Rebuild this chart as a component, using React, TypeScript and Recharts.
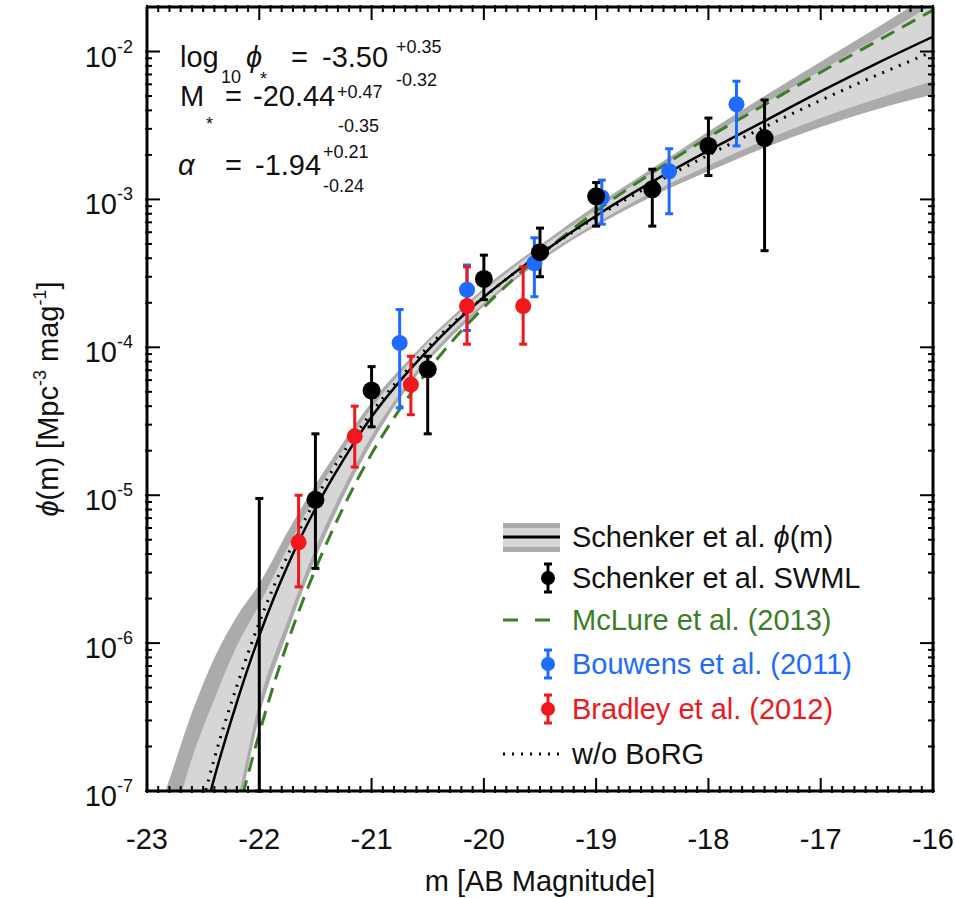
import React from 'react'
import {
  ComposedChart,
  XAxis,
  YAxis,
  Area,
  Line,
  Scatter,
  ErrorBar,
  Legend,
  Label,
} from 'recharts'

const FONT = "'Liberation Sans', Arial, Helvetica, sans-serif"
const INK = '#111'
const BLUE = '#1f6bff'
const RED = '#f0181c'
const GREEN = '#3d7d27'
const BAND_OUTER = '#ababab'
const BAND_INNER = '#d6d6d6'

const magGrid = [-23, -22.8, -22.6, -22.4, -22.2, -22, -21.75, -21.5, -21.25, -21, -20.75, -20.5, -20.25, -20, -19.5, -19, -18.5, -18, -17.5, -17, -16.5, -16]
// log10 phi for each curve
const fitLog = [-9.09, -8.24, -7.52, -6.91, -6.4, -5.95, -5.48, -5.09, -4.76, -4.47, -4.23, -4.02, -3.83, -3.66, -3.37, -3.11, -2.88, -2.67, -2.47, -2.27, -2.08, -1.9]
const noBorgLog = [-8.9, -8.08, -7.38, -6.78, -6.29, -5.86, -5.41, -5.03, -4.71, -4.44, -4.21, -4.0, -3.82, -3.66, -3.37, -3.12, -2.9, -2.7, -2.51, -2.33, -2.16, -2.0]
const mclureLog = [-10.7, -9.6, -8.66, -7.86, -7.19, -6.61, -6.0, -5.5, -5.08, -4.72, -4.42, -4.16, -3.93, -3.73, -3.38, -3.08, -2.82, -2.58, -2.36, -2.14, -1.93, -1.72]
const bandOuterHiLog = [-7.35, -6.92, -6.47, -6.1, -5.82, -5.6, -5.25, -4.93, -4.64, -4.37, -4.15, -3.95, -3.77, -3.6, -3.31, -3.04, -2.79, -2.54, -2.3, -2.07, -1.84, -1.6]
const bandInnerHiLog = [-7.8, -7.3, -6.78, -6.38, -6.02, -5.74, -5.36, -5.0, -4.69, -4.41, -4.18, -3.97, -3.79, -3.62, -3.33, -3.07, -2.82, -2.58, -2.35, -2.13, -1.91, -1.68]
const bandInnerLoLog = [-9.5, -9.0, -8.3, -7.65, -7.08, -6.4, -5.85, -5.36, -4.95, -4.6, -4.31, -4.07, -3.87, -3.7, -3.4, -3.16, -2.95, -2.77, -2.6, -2.45, -2.32, -2.2]
const bandOuterLoLog = [-9.8, -9.2, -8.5, -7.8, -7.2, -6.5, -5.93, -5.43, -5.01, -4.65, -4.35, -4.1, -3.9, -3.72, -3.42, -3.18, -2.98, -2.81, -2.65, -2.51, -2.39, -2.29]

// Schenker et al. SWML points (the faintest one sits below the frame)
const swmlMag = [-22.0, -21.5, -21.0, -20.5, -20.0, -19.5, -19.0, -18.5, -18.0, -17.5]
const swmlPhi = [6e-8, 9.3e-6, 5.1e-5, 7.1e-5, 2.9e-4, 4.4e-4, 1.05e-3, 1.17e-3, 2.3e-3, 2.6e-3]
const swmlLo = [1e-7, 3.2e-6, 2.9e-5, 2.6e-5, 2.1e-4, 3.0e-4, 6.6e-4, 6.6e-4, 1.45e-3, 4.5e-4]
const swmlHi = [9.5e-6, 2.6e-5, 7.4e-5, 8.7e-5, 4.2e-4, 6.4e-4, 1.3e-3, 1.6e-3, 3.55e-3, 4.7e-3]

// Bouwens et al. (2011)
const bouwensMag = [-20.75, -20.15, -19.55, -18.95, -18.35, -17.75]
const bouwensPhi = [1.07e-4, 2.45e-4, 3.7e-4, 1.03e-3, 1.55e-3, 4.4e-3]
const bouwensLo = [3.9e-5, 1.3e-4, 2.2e-4, 6.8e-4, 8.0e-4, 2.3e-3]
const bouwensHi = [1.8e-4, 3.6e-4, 5.5e-4, 1.35e-3, 2.2e-3, 6.3e-3]

// Bradley et al. (2012)
const bradleyMag = [-21.65, -21.15, -20.65, -20.15, -19.65]
const bradleyPhi = [4.8e-6, 2.5e-5, 5.6e-5, 1.9e-4, 1.9e-4]
const bradleyLo = [2.4e-6, 1.55e-5, 3.5e-5, 1.05e-4, 1.05e-4]
const bradleyHi = [1.0e-5, 4.0e-5, 8.7e-5, 3.5e-4, 3.5e-4]

const xMajor = [-23, -22, -21, -20, -19, -18, -17, -16]
const yDecades = [-7, -6, -5, -4, -3, -2]

const legendLabels = [
  'Schenker et al. ϕ(m)',
  'Schenker et al. SWML',
  'McLure et al. (2013)',
  'Bouwens et al. (2011)',
  'Bradley et al. (2012)',
  'w/o BoRG',
]

const pow10 = (v: number) => Math.pow(10, v)

const curveData = magGrid.map((m, i) => ({
  m,
  fit: pow10(fitLog[i]),
  noBorg: pow10(noBorgLog[i]),
  mclure: pow10(mclureLog[i]),
  outer: [pow10(bandOuterLoLog[i]), pow10(bandOuterHiLog[i])],
  inner: [pow10(bandInnerLoLog[i]), pow10(bandInnerHiLog[i])],
}))

const toPoints = (mags: number[], phi: number[], lo: number[], hi: number[]) =>
  mags.map((m, i) => ({ m, phi: phi[i], err: [phi[i] - lo[i], hi[i] - phi[i]] }))

const swmlPts = toPoints(swmlMag, swmlPhi, swmlLo, swmlHi)
const bouwensPts = toPoints(bouwensMag, bouwensPhi, bouwensLo, bouwensHi)
const bradleyPts = toPoints(bradleyMag, bradleyPhi, bradleyLo, bradleyHi)

// minor ticks every 0.1 mag, log minors 2..9 per decade
const xTicks: number[] = []
for (let i = xMajor[0] * 10; i <= xMajor[xMajor.length - 1] * 10; i++) xTicks.push(i / 10)
const yTicks: number[] = []
yDecades.forEach((e) => {
  if (e === -2) {
    yTicks.push(pow10(e))
    return
  }
  for (let j = 1; j <= 9; j++) yTicks.push(j * pow10(e))
})

const MAJOR = 15
const MINOR = 7
const isWhole = (v: number) => Math.abs(v - Math.round(v)) < 1e-6

function BottomTick({ x, y, payload }: any) {
  const major = isWhole(payload.value)
  return (
    <g>
      <line x1={x} x2={x} y1={y} y2={y - (major ? MAJOR : MINOR)} stroke="#000" strokeWidth={2} />
      {major && (
        <text x={x} y={y + 56} textAnchor="middle" fontFamily={FONT} fontSize={29} fill={INK}>
          {Math.round(payload.value)}
        </text>
      )}
    </g>
  )
}

function TopTick({ x, y, payload }: any) {
  const major = isWhole(payload.value)
  return <line x1={x} x2={x} y1={y} y2={y + (major ? MAJOR : MINOR)} stroke="#000" strokeWidth={2} />
}

function LeftTick({ x, y, payload }: any) {
  const e = Math.log10(payload.value)
  const major = isWhole(e)
  return (
    <g>
      <line x1={x} x2={x + (major ? MAJOR : MINOR)} y1={y} y2={y} stroke="#000" strokeWidth={2} />
      {major && (
        <text x={x - 12} y={y + 15} textAnchor="end" fontFamily={FONT} fontSize={29} fill={INK}>
          10
          <tspan dy={-14} fontSize={18}>
            {Math.round(e)}
          </tspan>
        </text>
      )}
    </g>
  )
}

function RightTick({ x, y, payload }: any) {
  const major = isWhole(Math.log10(payload.value))
  return <line x1={x} x2={x - (major ? MAJOR : MINOR)} y1={y} y2={y} stroke="#000" strokeWidth={2} />
}

const dot = (r: number, fill: string) => (p: any) => <circle cx={p.cx} cy={p.cy} r={r} fill={fill} />

function withItalicPhi(s: string) {
  const parts = s.split('ϕ')
  return parts.map((p, i) => (
    <React.Fragment key={i}>
      {i > 0 && <tspan fontStyle="italic">ϕ</tspan>}
      {p}
    </React.Fragment>
  ))
}

function MarkerIcon({ cx, cy, color }: { cx: number; cy: number; color: string }) {
  return (
    <g stroke={color} strokeWidth={3}>
      <line x1={cx} x2={cx} y1={cy - 14} y2={cy + 14} />
      <line x1={cx - 4} x2={cx + 4} y1={cy - 14} y2={cy - 14} />
      <line x1={cx - 4} x2={cx + 4} y1={cy + 14} y2={cy + 14} />
      <circle cx={cx} cy={cy} r={7} fill={color} stroke="none" />
    </g>
  )
}

function LegendBox() {
  const rowY = [32, 73, 115, 159, 204, 249]
  const colors = [INK, INK, GREEN, BLUE, RED, INK]
  const tx = 77
  return (
    <svg width={400} height={270} style={{ overflow: 'visible', display: 'block' }}>
      <g>
        <rect x={8} y={rowY[0] - 14} width={57} height={29} fill={BAND_OUTER} />
        <rect x={8} y={rowY[0] - 9} width={57} height={19} fill={BAND_INNER} />
        <line x1={8} x2={65} y1={rowY[0]} y2={rowY[0]} stroke="#000" strokeWidth={3} />
      </g>
      <MarkerIcon cx={53} cy={rowY[1]} color="#000" />
      <line x1={8} x2={55} y1={rowY[2]} y2={rowY[2]} stroke={GREEN} strokeWidth={3} strokeDasharray="15 17" />
      <MarkerIcon cx={53} cy={rowY[3]} color={BLUE} />
      <MarkerIcon cx={53} cy={rowY[4]} color={RED} />
      <line x1={8} x2={65} y1={rowY[5]} y2={rowY[5]} stroke="#000" strokeWidth={3} strokeDasharray="2 7" />
      {legendLabels.map((lab, i) => (
        <text key={lab} x={tx} y={rowY[i] + 10} fontFamily={FONT} fontSize={29} fill={colors[i]}>
          {withItalicPhi(lab)}
        </text>
      ))}
    </svg>
  )
}

function Annotation() {
  const big = 29
  const small = 18
  return (
    <svg
      width={955}
      height={898}
      style={{ position: 'absolute', left: 0, top: 0, pointerEvents: 'none' }}
      fontFamily={FONT}
      fill={INK}
    >
      <text x={180} y={67} fontSize={big}>log</text>
      <text x={221} y={83} fontSize={small}>10</text>
      <text x={246} y={67} fontSize={big} fontStyle="italic">ϕ</text>
      <text x={260} y={85} fontSize={small}>*</text>
      <text x={291} y={67} fontSize={big}>=</text>
      <text x={322} y={67} fontSize={big}>-3.50</text>
      <text x={396} y={53} fontSize={small}>+0.35</text>
      <text x={396} y={86} fontSize={small}>-0.32</text>

      <text x={180} y={106} fontSize={big}>M</text>
      <text x={206} y={130} fontSize={small}>*</text>
      <text x={225} y={106} fontSize={big}>=</text>
      <text x={253} y={106} fontSize={big}>-20.44</text>
      <text x={337} y={98} fontSize={small}>+0.47</text>
      <text x={338} y={132} fontSize={small}>-0.35</text>

      <text x={178} y={175} fontSize={big} fontStyle="italic">α</text>
      <text x={225} y={175} fontSize={big}>=</text>
      <text x={255} y={175} fontSize={big}>-1.94</text>
      <text x={323} y={158} fontSize={small}>+0.21</text>
      <text x={323} y={192} fontSize={small}>-0.24</text>
    </svg>
  )
}

export default function App() {
  const yDomain = [1e-7, 0.02]
  const xDomain = [xMajor[0], xMajor[xMajor.length - 1]]
  return (
    <div style={{ position: 'absolute', left: 0, top: 0, width: 955, height: 898, background: '#fff' }}>
      <ComposedChart
        width={955}
        height={898}
        data={curveData}
        margin={{ top: 6, right: 21, bottom: 47, left: 47 }}
      >
        <XAxis
          dataKey="m"
          type="number"
          domain={xDomain}
          allowDataOverflow
          ticks={xTicks}
          interval={0}
          tickSize={0}
          tickLine={false}
          tick={<BottomTick />}
          axisLine={{ stroke: '#000', strokeWidth: 3 }}
          height={60}
        >
          <Label
            content={({ viewBox }: any) => (
              <text
                x={viewBox.x + viewBox.width / 2}
                y={viewBox.y + 100}
                textAnchor="middle"
                fontFamily={FONT}
                fontSize={29}
                fill={INK}
              >
                m [AB Magnitude]
              </text>
            )}
          />
        </XAxis>
        <XAxis
          xAxisId="top"
          orientation="top"
          dataKey="m"
          type="number"
          domain={xDomain}
          allowDataOverflow
          ticks={xTicks}
          interval={0}
          tickSize={0}
          tickLine={false}
          tick={<TopTick />}
          axisLine={{ stroke: '#000', strokeWidth: 3 }}
          height={1}
        />
        <YAxis
          dataKey="phi"
          type="number"
          scale="log"
          domain={yDomain}
          allowDataOverflow
          ticks={yTicks}
          interval={0}
          tickSize={0}
          tickLine={false}
          tick={<LeftTick />}
          axisLine={{ stroke: '#000', strokeWidth: 3 }}
          width={100}
        >
          <Label
            content={({ viewBox }: any) => {
              const cx = viewBox.x + 11
              const cy = viewBox.y + viewBox.height / 2
              return (
                <text
                  transform={`translate(${cx},${cy}) rotate(-90)`}
                  textAnchor="middle"
                  fontFamily={FONT}
                  fontSize={29}
                  fill={INK}
                >
                  <tspan fontStyle="italic">ϕ</tspan>(m) [Mpc
                  <tspan dy={-12} fontSize={18}>-3</tspan>
                  <tspan dy={12}> mag</tspan>
                  <tspan dy={-12} fontSize={18}>-1</tspan>
                  <tspan dy={12}>]</tspan>
                </text>
              )
            }}
          />
        </YAxis>
        <YAxis
          yAxisId="right"
          orientation="right"
          type="number"
          scale="log"
          domain={yDomain}
          allowDataOverflow
          ticks={yTicks}
          interval={0}
          tickSize={0}
          tickLine={false}
          tick={<RightTick />}
          axisLine={{ stroke: '#000', strokeWidth: 3 }}
          width={1}
        />

        <Area dataKey="outer" type="monotone" fill={BAND_OUTER} fillOpacity={1} stroke="none" isAnimationActive={false} activeDot={false} />
        <Area dataKey="inner" type="monotone" fill={BAND_INNER} fillOpacity={1} stroke="none" isAnimationActive={false} activeDot={false} />
        <Line dataKey="mclure" type="monotone" stroke={GREEN} strokeWidth={3} strokeDasharray="15 9" dot={false} activeDot={false} isAnimationActive={false} />
        <Line dataKey="noBorg" type="monotone" stroke="#000" strokeWidth={3} strokeDasharray="2 7" dot={false} activeDot={false} isAnimationActive={false} />
        <Line dataKey="fit" type="monotone" stroke="#000" strokeWidth={2.5} dot={false} activeDot={false} isAnimationActive={false} />

        <Scatter data={bouwensPts} dataKey="phi" shape={dot(8, BLUE)} isAnimationActive={false}>
          <ErrorBar dataKey="err" direction="y" width={4} strokeWidth={3} stroke={BLUE} />
        </Scatter>
        <Scatter data={bradleyPts} dataKey="phi" shape={dot(8, RED)} isAnimationActive={false}>
          <ErrorBar dataKey="err" direction="y" width={4} strokeWidth={3} stroke={RED} />
        </Scatter>
        <Scatter data={swmlPts} dataKey="phi" shape={dot(9, '#000')} isAnimationActive={false}>
          <ErrorBar dataKey="err" direction="y" width={4} strokeWidth={3} stroke="#000" />
        </Scatter>

        <Legend
          layout="vertical"
          align="center"
          verticalAlign="middle"
          content={() => <LegendBox />}
          wrapperStyle={{ left: 495, top: 505, width: 400, height: 270 }}
        />
      </ComposedChart>
      <Annotation />
    </div>
  )
}
